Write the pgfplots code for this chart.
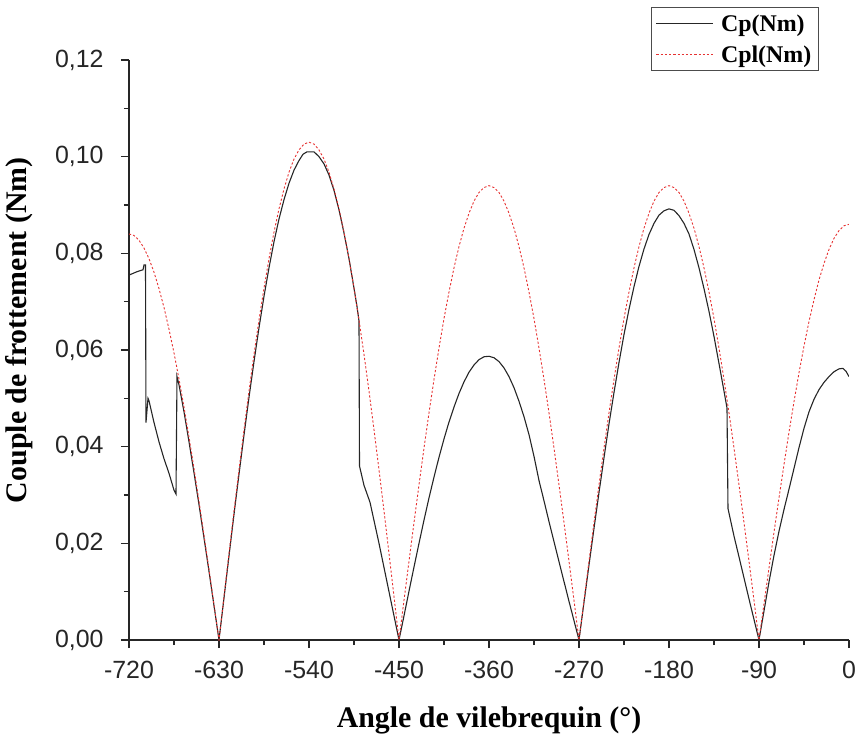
\documentclass[border=0pt]{standalone}
\usepackage{pgfplots}
\pgfplotsset{compat=1.18}
\usepackage{fontspec}
\setmainfont{Liberation Serif}
\newfontfamily\ticksf{Liberation Sans}
\definecolor{cpl}{RGB}{230,50,50}
\begin{document}
\begin{tikzpicture}
\useasboundingbox (-129bp,-100bp) rectangle (728bp,640bp);
\begin{axis}[
 at={(0,0)}, anchor=south west,
 scale only axis, width=720bp, height=580bp,
 xmin=-720, xmax=0, ymin=0, ymax=0.12,
 axis x line*=bottom, axis y line*=left,
 axis line style={line width=1.2bp, black!85, -},
 xtick={-720,-630,-540,-450,-360,-270,-180,-90,0},
 minor xtick={-675,-585,-495,-405,-315,-225,-135,-45},
 ytick={0,0.02,0.04,0.06,0.08,0.10,0.12},
 minor ytick={0.01,0.03,0.05,0.07,0.09,0.11},
 tick align=outside, major tick length=8bp, minor tick length=5bp,
 tick style={line width=1.1bp, black!85},
 scaled y ticks=false,
 yticklabel style={/pgf/number format/.cd, fixed, fixed zerofill, precision=2, use comma, /tikz/.cd, xshift=-14bp},
 xticklabel style={yshift=-10bp},
 /pgf/number format/assume math mode=true,
 tick label style={font=\ticksf\fontsize{25}{27}\selectfont, text=black!85},
 label style={font=\bfseries\fontsize{30}{34}\selectfont},
 xlabel={Angle de vilebrequin (°)},
 ylabel={Couple de frottement (Nm)},
 xlabel style={at={(axis description cs:0.5,-0.138)}, anchor=center},
 ylabel style={at={(axis description cs:-0.152,0.534)}, anchor=center},
 legend style={at={(axis description cs:0.958,1.091)}, anchor=north east, draw=black!70, line width=0.8bp,
   font=\bfseries\fontsize{24}{28}\selectfont, cells={anchor=west}, inner sep=5bp, row sep=9bp},
 legend image code/.code={\draw[#1] (0bp,0bp) -- (56bp,0bp);},
]
\addplot[black!85, line width=1.1bp] table {
-720 0.0755
-712 0.0762
-706 0.0766
-705 0.0776
-703.5 0.0776
-703 0.0450
-701 0.0500
-700 0.0495
-695 0.0450
-690 0.0410
-685 0.0375
-680 0.0345
-675 0.0310
-673 0.0302
-672 0.0545
-670 0.0528
-665 0.0472
-660 0.0410
-655 0.0346
-650 0.0280
-645 0.0211
-640 0.0142
-635 0.0071
-630 0
-625 0.0087
-620 0.0174
-615 0.0260
-610 0.0343
-605 0.0424
-600 0.0502
-595 0.0576
-590 0.0646
-585 0.0711
-580 0.0770
-575 0.0824
-570 0.0871
-565 0.0911
-560 0.0945
-555 0.0972
-550 0.0992
-546 0.1005
-542 0.1010
-535 0.1010
-530 0.1000
-525 0.0985
-520 0.0962
-515 0.0930
-510 0.0890
-505 0.0842
-500 0.0789
-495 0.0728
-492 0.0690
-490 0.0660
-489.5 0.0360
-485 0.0320
-479 0.0285
-470 0.0200
-460 0.0100
-450 0
-445 0.0050
-440 0.0101
-435 0.0151
-430 0.0200
-425 0.0248
-420 0.0294
-415 0.0337
-410 0.0378
-405 0.0416
-400 0.0451
-395 0.0482
-390 0.0510
-385 0.0534
-380 0.0554
-375 0.0569
-370 0.0580
-365 0.0586
-360 0.0587
-355 0.0584
-350 0.0576
-345 0.0563
-340 0.0545
-335 0.0522
-330 0.0494
-325 0.0462
-320 0.0425
-315 0.0380
-310 0.0330
-305 0.0288
-300 0.0245
-290 0.0162
-280 0.0080
-270 0
-265 0.0078
-260 0.0155
-255 0.0231
-250 0.0305
-245 0.0377
-240 0.0447
-235 0.0512
-230 0.0574
-225 0.0632
-220 0.0684
-215 0.0731
-210 0.0773
-205 0.0809
-200 0.0839
-195 0.0862
-190 0.0879
-185 0.0888
-180 0.0892
-175 0.0889
-170 0.0878
-165 0.0862
-160 0.0840
-155 0.0808
-150 0.0770
-145 0.0727
-140 0.0680
-135 0.0628
-130 0.0572
-125 0.0515
-122 0.0480
-121 0.0272
-115 0.0215
-110 0.0172
-100 0.0085
-90 0
-85 0.0060
-80 0.0120
-75 0.0175
-70 0.0225
-65 0.0270
-60 0.0312
-55 0.0355
-50 0.0398
-45 0.0438
-40 0.0472
-35 0.0498
-30 0.0518
-25 0.0533
-20 0.0545
-15 0.0555
-10 0.0561
-6 0.0562
-3 0.0556
0 0.0545
};
\addlegendentry{\hspace{6bp}Cp(Nm)}
\addplot[cpl, line width=0.9bp, dash pattern=on 2.2bp off 2bp] table {
-720 0.0840
-715 0.0837
-710 0.0827
-705 0.0811
-700 0.0789
-695 0.0761
-690 0.0727
-685 0.0688
-680 0.0643
-675 0.0594
-670 0.0540
-665 0.0482
-660 0.0420
-655 0.0355
-650 0.0287
-645 0.0217
-640 0.0146
-635 0.0073
-630 0
-625 0.0090
-620 0.0179
-615 0.0267
-610 0.0352
-605 0.0435
-600 0.0515
-595 0.0591
-590 0.0662
-585 0.0728
-580 0.0789
-575 0.0844
-570 0.0892
-565 0.0933
-560 0.0968
-555 0.0995
-550 0.1014
-545 0.1026
-540 0.1030
-535 0.1026
-530 0.1014
-525 0.0995
-520 0.0968
-515 0.0933
-510 0.0892
-505 0.0844
-500 0.0789
-495 0.0728
-490 0.0662
-485 0.0591
-480 0.0515
-475 0.0435
-470 0.0352
-465 0.0267
-460 0.0179
-455 0.0090
-450 0
-445 0.0082
-440 0.0163
-435 0.0243
-430 0.0321
-425 0.0397
-420 0.0470
-415 0.0539
-410 0.0604
-405 0.0665
-400 0.0720
-395 0.0770
-390 0.0814
-385 0.0852
-380 0.0883
-375 0.0908
-370 0.0926
-365 0.0936
-360 0.0940
-355 0.0936
-350 0.0926
-345 0.0908
-340 0.0883
-335 0.0852
-330 0.0814
-325 0.0770
-320 0.0720
-315 0.0665
-310 0.0604
-305 0.0539
-300 0.0470
-295 0.0397
-290 0.0321
-285 0.0243
-280 0.0163
-275 0.0082
-270 0
-265 0.0082
-260 0.0163
-255 0.0243
-250 0.0321
-245 0.0397
-240 0.0470
-235 0.0539
-230 0.0604
-225 0.0665
-220 0.0720
-215 0.0770
-210 0.0814
-205 0.0852
-200 0.0883
-195 0.0908
-190 0.0926
-185 0.0936
-180 0.0940
-175 0.0936
-170 0.0926
-165 0.0908
-160 0.0883
-155 0.0852
-150 0.0814
-145 0.0770
-140 0.0720
-135 0.0665
-130 0.0604
-125 0.0539
-120 0.0470
-115 0.0397
-110 0.0321
-105 0.0243
-100 0.0163
-95 0.0082
-90 0
-85 0.0075
-80 0.0149
-75 0.0223
-70 0.0294
-65 0.0363
-60 0.0430
-55 0.0493
-50 0.0553
-45 0.0608
-40 0.0659
-35 0.0704
-30 0.0745
-25 0.0779
-20 0.0808
-15 0.0831
-10 0.0847
-5 0.0857
0 0.0860
};
\addlegendentry{\hspace{6bp}Cpl(Nm)}
\end{axis}
\end{tikzpicture}
\end{document}
